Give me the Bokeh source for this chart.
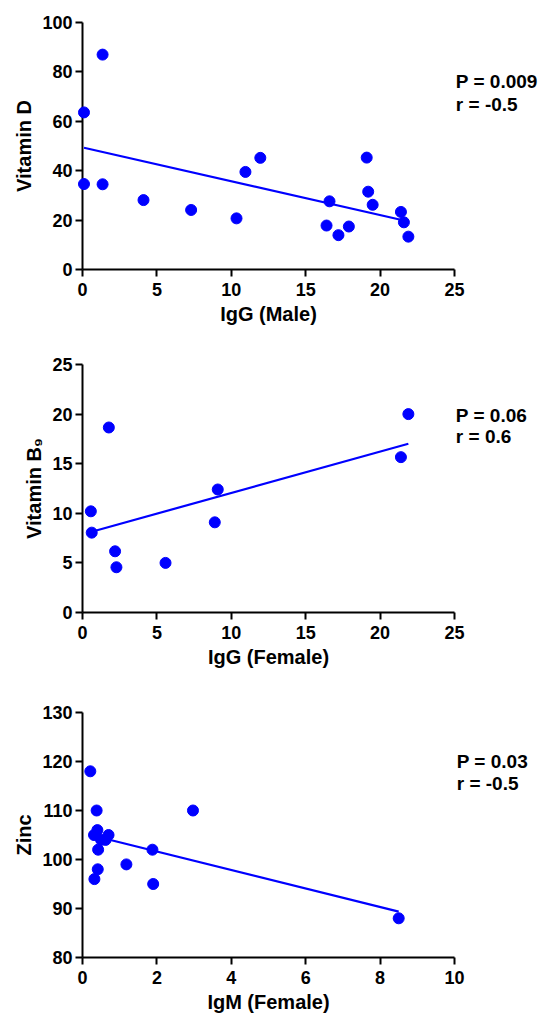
import numpy as np
from bokeh.plotting import figure
from bokeh.models import Range1d, FixedTicker, Label, Title
from bokeh.layouts import column
from bokeh.embed import file_html
from bokeh.resources import INLINE

# ---------------- data ----------------
# Panel 1: IgG (Male) vs Vitamin D
igg_male = [0.1, 1.35, 0.1, 1.35, 4.1, 7.3, 10.35, 10.95, 11.95, 16.4, 16.6,
            17.2, 17.9, 19.1, 19.2, 19.5, 21.4, 21.6, 21.9]
vitamin_d = [63.6, 87.0, 34.6, 34.5, 28.1, 24.1, 20.7, 39.5, 45.2, 17.8, 27.6,
             13.9, 17.4, 45.3, 31.5, 26.2, 23.3, 19.1, 13.3]
stats_1 = ["P = 0.009", "r = -0.5"]

# Panel 2: IgG (Female) vs Vitamin B9
igg_female = [1.77, 0.56, 0.62, 2.19, 2.28, 5.58, 8.89, 9.09, 21.4, 21.9]
vitamin_b9 = [18.65, 10.2, 8.05, 6.17, 4.56, 5.0, 9.09, 12.4, 15.66, 20.0]
stats_2 = ["P = 0.06", "r = 0.6"]

# Panel 3: IgM (Female) vs Zinc
igm_female = [0.21, 0.38, 0.40, 0.31, 0.50, 0.62, 0.70, 0.42, 0.41, 0.32,
              1.18, 1.88, 1.90, 2.97, 8.5]
zinc = [118, 110, 106, 105, 104, 104, 105, 102, 98, 96, 99, 102, 95, 110, 88]
stats_3 = ["P = 0.03", "r = -0.5"]

ticks_igg = [0, 5, 10, 15, 20, 25]
ticks_igm = [0, 2, 4, 6, 8, 10]
ticks_vit_d = [0, 20, 40, 60, 80, 100]
ticks_b9 = [0, 5, 10, 15, 20, 25]
ticks_zinc = [80, 90, 100, 110, 120, 130]

FONT = "Liberation Sans"
BLUE = "#0000ff"
FIG_W = 544
BORDER_L = 82
AXIS_W = 372          # pixel length of the drawn x axis
FRAME_W = FIG_W - BORDER_L
TITLE_PX = 20

# advance widths (per 1000 em) of Liberation Sans Bold, used to centre the
# x-axis titles under the drawn axis rather than under the wider frame
BOLD_W = {"I": 278, "g": 611, "G": 778, " ": 278, "(": 333, ")": 333, "M": 833,
          "a": 556, "l": 278, "e": 556, "F": 611, "m": 889}


def text_width(s, size):
    return sum(BOLD_W.get(c, 556) for c in s) * size / 1000.0


def panel(xs, ys, xticks, yticks, xlabel, ylabel, stats, stat_pos,
          height, border_top, border_bottom, lbl_standoff=6, title_standoff=5):
    x0, x1 = xticks[0], xticks[-1]
    x_end = x0 + (x1 - x0) * FRAME_W / AXIS_W   # extra room on the right for the stats text
    p = figure(width=FIG_W, height=height, output_backend="svg",
               toolbar_location=None,
               x_range=Range1d(x0, x_end),
               y_range=Range1d(yticks[0], yticks[-1]),
               min_border_left=BORDER_L, min_border_right=0,
               min_border_top=border_top, min_border_bottom=border_bottom)
    p.outline_line_color = None
    p.xgrid.visible = False
    p.ygrid.visible = False
    p.background_fill_color = "white"
    p.border_fill_color = "white"

    for ax, ticks in ((p.xaxis[0], xticks), (p.yaxis[0], yticks)):
        ax.ticker = FixedTicker(ticks=ticks)
        ax.axis_line_width = 2
        ax.axis_line_color = "black"
        ax.major_tick_line_width = 2
        ax.major_tick_line_color = "black"
        ax.major_tick_out = 7
        ax.major_tick_in = 0
        ax.minor_tick_out = 0
        ax.minor_tick_in = 0
        ax.major_label_text_font = FONT
        ax.major_label_text_font_style = "bold"
        ax.major_label_text_font_size = "18px"
        ax.major_label_text_color = "black"
        ax.axis_label_text_font = FONT
        ax.axis_label_text_font_style = "bold"
        ax.axis_label_text_font_size = "20px"
        ax.axis_label_text_color = "black"
    p.xaxis[0].bounds = (x0, x1)
    p.xaxis[0].major_label_standoff = lbl_standoff
    p.yaxis[0].axis_label = ylabel
    p.yaxis[0].major_label_standoff = 3
    p.yaxis[0].axis_label_standoff = 4

    # x-axis title centred under the drawn axis
    offset = (AXIS_W - text_width(xlabel, TITLE_PX)) / 2
    p.add_layout(Title(text=xlabel, align="left", offset=offset,
                       text_font=FONT, text_font_style="bold",
                       text_font_size=f"{TITLE_PX}px",
                       text_color="black", standoff=title_standoff), "below")

    # linear regression line across the data's x extent
    slope, intercept = np.polyfit(xs, ys, 1)
    lx = np.array([min(xs), max(xs)])
    line = p.line(lx, slope * lx + intercept, line_color=BLUE, line_width=2.2)
    line.level = "overlay"

    pts = p.scatter(xs, ys, size=11, fill_color=BLUE, line_color=BLUE)
    pts.level = "overlay"

    (sx, sy1, sy2) = stat_pos
    for txt, yy in zip(stats, (sy1, sy2)):
        p.add_layout(Label(x=sx, y=yy, text=txt, text_font=FONT,
                           text_font_style="bold", text_font_size="19px",
                           text_color="black", text_baseline="alphabetic",
                           text_align="left"))
    return p


p1 = panel(igg_male, vitamin_d, ticks_igg, ticks_vit_d, "IgG (Male)", "Vitamin D",
           stats_1, (25.09, 76.2, 67.0), height=350, border_top=22, border_bottom=81)
p2 = panel(igg_female, vitamin_b9, ticks_igg, ticks_b9, "IgG (Female)", "Vitamin B\u2089",
           stats_2, (25.09, 19.9, 17.7), height=348, border_top=14, border_bottom=86)
p3 = panel(igm_female, zinc, ticks_igm, ticks_zinc, "IgM (Female)", "Zinc",
           stats_3, (10.06, 119.9, 115.6), height=317, border_top=14, border_bottom=56)

layout = column(p1, p2, p3)
open("out.html", "w").write(file_html(layout, INLINE))
